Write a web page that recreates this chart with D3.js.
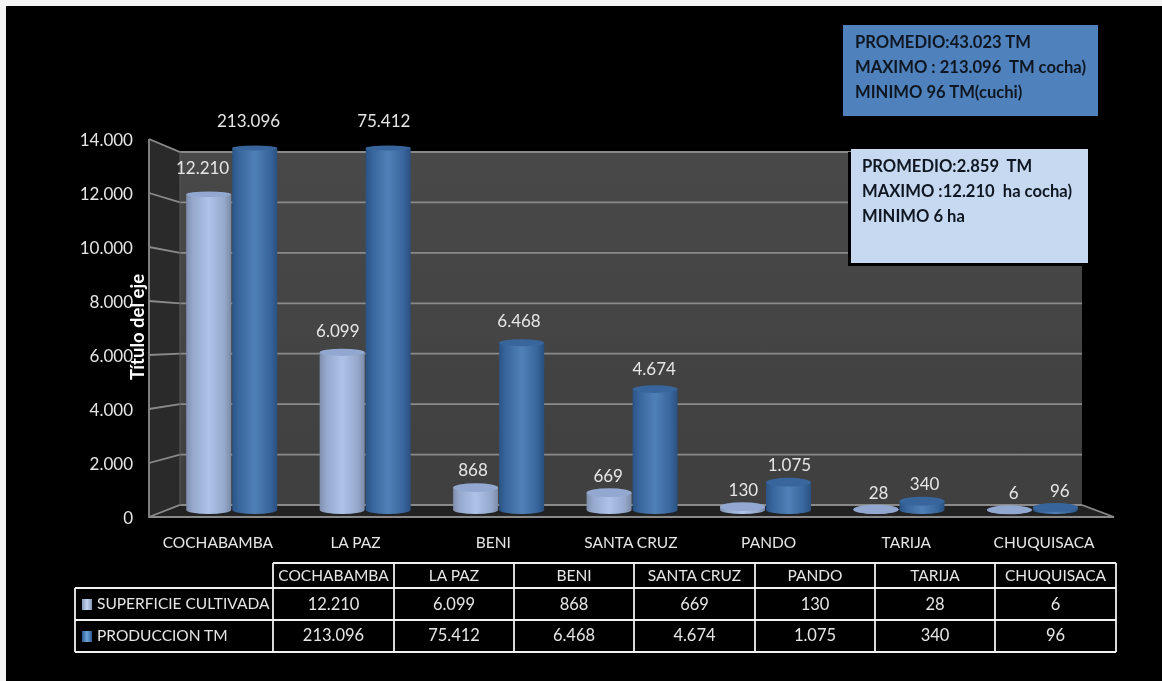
<!DOCTYPE html>
<html lang="es"><head><meta charset="utf-8">
<script src="https://cdn.jsdelivr.net/npm/d3@7/dist/d3.min.js"></script>
<style>html,body{margin:0;padding:0;background:#f4f4f4;overflow:hidden}svg{display:block}text{font-family:Lato,"Open Sans",sans-serif;white-space:pre}</style>
</head><body><div id="c"></div>
<script>
const categories=["COCHABAMBA","LA PAZ","BENI","SANTA CRUZ","PANDO","TARIJA","CHUQUISACA"];
const superficie=[12210,6099,868,669,130,28,6];
const produccion=[213096,75412,6468,4674,1075,340,96];
const seriesNames=["SUPERFICIE CULTIVADA","PRODUCCION TM"];
const yTicks=[0,2000,4000,6000,8000,10000,12000,14000];
const boxBlue=["PROMEDIO:43.023 TM","MAXIMO : 213.096  TM cocha)","MINIMO 96 TM(cuchi)"];
const boxLight=["PROMEDIO:2.859  TM","MAXIMO :12.210  ha cocha)","MINIMO 6 ha"];
const fmt=v=>d3.format(",")(v).replace(/,/g,".");

const W=1162,H=681;
const svg=d3.select("#c").append("svg").attr("width",W).attr("height",H);
const defs=svg.append("defs");
function grad(id,stops){const g=defs.append("linearGradient").attr("id",id);
  stops.forEach(([o,c])=>g.append("stop").attr("offset",o).attr("stop-color",c));}
grad("cylA",[[0,"#7f8eac"],[.14,"#95a8cc"],[.5,"#aec3e8"],[.85,"#95a8cc"],[1,"#7b8aa6"]]);
grad("cylB",[[0,"#2a5485"],[.14,"#37659b"],[.5,"#5080b8"],[.85,"#37659b"],[1,"#2a5080"]]);
grad("swA",[[0,"#8798b8"],[.5,"#c5d6f2"],[1,"#8798b8"]]);
grad("swB",[[0,"#2d5a90"],[.5,"#6ea5de"],[1,"#2d5a90"]]);
const wg=defs.append("linearGradient").attr("id","wall").attr("x1",0).attr("x2",0).attr("y1",0).attr("y2",1);
wg.append("stop").attr("offset",0).attr("stop-color","#484848");
wg.append("stop").attr("offset",1).attr("stop-color","#404040");
defs.append("filter").attr("id","soft").append("feGaussianBlur").attr("stdDeviation",0.35);

svg.append("rect").attr("x",6).attr("y",6).attr("width",W-6).attr("height",H-6).attr("fill","#000");
const root=svg.append("g").attr("filter","url(#soft)");

// front (outer) and back plane value scales of the 3D box
const yFront=d3.scaleLinear().domain([0,14000]).range([517,139]);
const yBack=d3.scaleLinear().domain([0,14000]).range([505,152]);
const yBar=d3.scaleLinear().domain([0,14000]).range([510,148]).clamp(true);
const rYs=d3.scaleLinear().domain([0,14000]).range([4.5,2.5]).clamp(true);
const xL=149,xB=180,xBR=1082,xR=1114;
const gridC="#8a8a8a";

// walls
root.append("rect").attr("x",xB).attr("y",yBack(14000)).attr("width",xBR-xB).attr("height",yBack(0)-yBack(14000)).attr("fill","url(#wall)");
root.append("path").attr("fill","#2c2c2c")
 .attr("d",d3.line()([[xL,yFront(14000)],[xB,yBack(14000)],[xB,yBack(0)],[xL,yFront(0)]]));
root.append("path").attr("fill","#202020")
 .attr("d",d3.line()([[xL,yFront(0)],[xB,yBack(0)],[xBR,yBack(0)],[xR,yFront(0)]]));
root.append("g").selectAll("path").data(yTicks).join("path")
 .attr("fill","none").attr("stroke",gridC).attr("stroke-width",1.8)
 .attr("d",v=>d3.line()([[xL,yFront(v)],[xB,yBack(v)],[xBR,yBack(v)]]));
root.append("path").attr("fill","none").attr("stroke",gridC).attr("stroke-width",1.8)
 .attr("d",d3.line()([[xL,yFront(14000)],[xL,yFront(0)],[xR,yFront(0)],[xBR,yBack(0)]]));
root.append("line").attr("x1",xB).attr("x2",xB).attr("y1",yBack(14000)).attr("y2",yBack(0)).attr("stroke","#5a5a5a");

// y axis labels
root.append("g").selectAll("text").data(yTicks).join("text")
 .attr("x",133).attr("y",v=>yFront(v)+3).attr("text-anchor","end").attr("dominant-baseline","middle")
 .attr("fill","#e6e6e6").attr("font-size",17).text(fmt);

// cylinders
const xBars=d3.scaleBand().domain(categories).range([165,165+7*133.45]);
const barW=45, gap=1;
const xOf=(c,s)=>xBars(c)+xBars.bandwidth()/2+(s?gap/2:-gap/2-barW);
function cyl(values,s,fill,topFill){
 const g=root.append("g");
 g.selectAll("path").data(categories).join("path").attr("fill",`url(#${fill})`)
  .attr("d",(c,i)=>{const x=xOf(c,s),y0=yBar(0),y1=yBar(values[i]);
    return `M${x},${y1}L${x},${y0}A${barW/2},4 0 0 0 ${x+barW},${y0}L${x+barW},${y1}Z`;});
 g.selectAll("ellipse").data(categories).join("ellipse")
  .attr("cx",c=>xOf(c,s)+barW/2).attr("cy",(c,i)=>yBar(values[i])).attr("rx",barW/2).attr("ry",(c,i)=>rYs(values[i]))
  .attr("fill",topFill);
}
cyl(superficie,0,"cylA","#92a8d0");
cyl(produccion,1,"cylB","#38669c");

root.append("text").attr("transform","translate(144,327) rotate(-90)").attr("text-anchor","middle")
 .attr("fill","#fff").attr("font-size",18.5).attr("font-weight",700).text("Título del eje");

// value labels
const xLabels=d3.scaleBand().domain(categories).range([158,158+7*135.2]);
function labels(values,s){
 root.append("g").selectAll("text").data(categories).join("text")
  .attr("x",c=>xLabels(c)+xLabels.bandwidth()/2+(s?23:-23))
  .attr("y",(c,i)=>{const y=yBar(values[i]);return y-15-(yBar(0)-y)*0.029;})
  .attr("text-anchor","middle").attr("dominant-baseline","middle")
  .attr("fill","#e6e6e6").attr("font-size",17).text((c,i)=>fmt(values[i]));
}
labels(superficie,0);labels(produccion,1);

// category labels
const xCat=d3.scaleBand().domain(categories).range([149,149+7*137.7]);
root.append("g").selectAll("text").data(categories).join("text")
 .attr("x",c=>xCat(c)+xCat.bandwidth()/2).attr("y",544).attr("text-anchor","middle").attr("dominant-baseline","middle")
 .attr("fill","#e6e6e6").attr("font-size",15.5).text(c=>c);

// data table
const colX=[273,394,514,634,755,875,995,1116];
const rowY=[563,588,620,652];
const t=root.append("g");
const lineC="#f2f2f2",lineW=1.8;
rowY.forEach((y,i)=>t.append("line").attr("x1",i<1?colX[0]:75).attr("x2",colX[7]).attr("y1",y).attr("y2",y).attr("stroke",lineC).attr("stroke-width",lineW));
colX.forEach(x=>t.append("line").attr("x1",x).attr("x2",x).attr("y1",rowY[0]).attr("y2",rowY[3]).attr("stroke",lineC).attr("stroke-width",lineW));
t.append("line").attr("x1",75).attr("x2",75).attr("y1",rowY[1]).attr("y2",rowY[3]).attr("stroke",lineC).attr("stroke-width",lineW);
const cellX=i=>(colX[i]+colX[i+1])/2;
const cell=(x,y,s,size=16.5)=>t.append("text").attr("x",x).attr("y",y).attr("text-anchor","middle").attr("dominant-baseline","middle").attr("fill","#e6e6e6").attr("font-size",size).text(s);
categories.forEach((c,i)=>{cell(cellX(i),577,c,15.5);cell(cellX(i),606,fmt(superficie[i]));cell(cellX(i),637,fmt(produccion[i]));});
seriesNames.forEach((n,i)=>{
 const y=[605,637][i];
 t.append("rect").attr("x",82).attr("y",y-6).attr("width",10).attr("height",11).attr("fill",`url(#${i?"swB":"swA"})`);
 t.append("text").attr("x",97).attr("y",y).attr("dominant-baseline","middle").attr("fill","#e6e6e6").attr("font-size",15.5).text(n);
});

// annotation boxes
function box(x,y,w,h,fill,lines,tx,ty,shadow){
 const g=root.append("g");
 if(shadow)g.append("rect").attr("x",x-3).attr("y",y+3).attr("width",w).attr("height",h).attr("fill","#000");
 g.append("rect").attr("x",x).attr("y",y).attr("width",w).attr("height",h).attr("fill",fill);
 g.selectAll("text").data(lines).join("text").attr("x",tx).attr("y",(d,i)=>ty+i*25)
  .attr("dominant-baseline","middle").attr("fill","#101820").attr("font-size",16.6).attr("font-weight",700).text(d=>d);
}
box(843,25,255,91,"#4f81bd",boxBlue,855,44);
box(851,149,237,114,"#c6d9f0",boxLight,862,168,true);
</script></body></html>
